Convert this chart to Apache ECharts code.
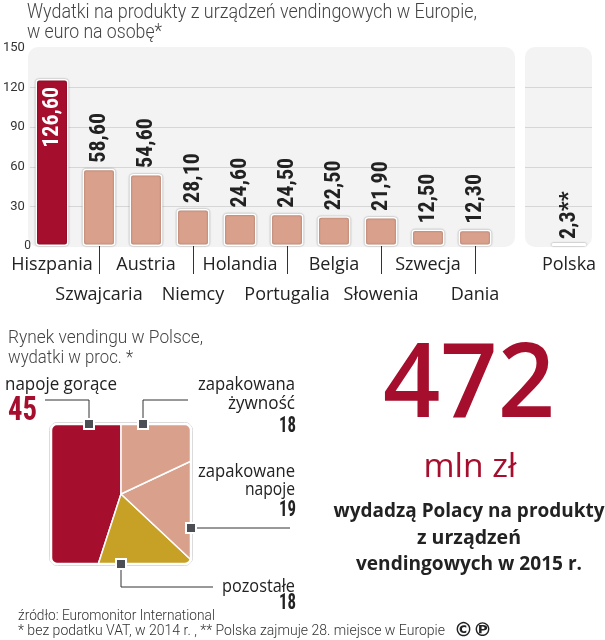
<!DOCTYPE html>
<html>
<head>
<meta charset="utf-8">
<script src="https://cdn.jsdelivr.net/npm/echarts@6/dist/echarts.min.js"></script>
<style>
html,body{margin:0;padding:0;background:#fff;}
#c{width:605px;height:640px;}
</style>
</head>
<body>
<div id="c"></div>
<script>
// ---- data ----
const categories = ['Hiszpania','Szwajcaria','Austria','Niemcy','Holandia','Portugalia','Belgia','Słowenia','Szwecja','Dania'];
const values = [126.6, 58.6, 54.6, 28.1, 24.6, 24.5, 22.5, 21.9, 12.5, 12.3];
const polandCategory = ['Polska'];
const polandValue = [2.3];
const yMin = 0, yMax = 150, yInterval = 30;
const pieLabelLines = [['napoje gorące'], ['pozostałe'], ['zapakowane', 'napoje'], ['zapakowana', 'żywność']];
const pieValues = [45, 18, 19, 18];
const pieNames = pieLabelLines.map(l => l.join(' '));
const titleLines = ['Wydatki na produkty z urządzeń vendingowych w Europie,', 'w euro na osobę*'];
const pieTitleLines = ['Rynek vendingu w Polsce,', 'wydatki w proc. *'];
const headline = '472';
const headlineUnit = 'mln zł';
const headlineText = ['wydadzą Polacy na produkty', 'z urządzeń', 'vendingowych w 2015 r.'];
const footerLines = ['źródło: Euromonitor International', '* bez podatku VAT, w 2014 r. , ** Polska zajmuje 28. miejsce w Europie'];

// ---- styles ----
const RED = '#a50f2d', PINK = '#d9a08b', OLIVE = '#c7a026';
const COND = "'Liberation Sans Narrow','Roboto Condensed','DejaVu Sans Condensed',sans-serif";
const LIGHT = "Roboto,'Noto Sans',sans-serif";
const SANS = "'Open Sans','Noto Sans',sans-serif";
const fmt = v => v.toFixed(2).replace('.', ',');

const mctx = document.createElement('canvas').getContext('2d');
function fitScale(text, font, w) { mctx.font = font; return w / mctx.measureText(text).width; }
function fitText(text, x, y, w, weight, size, family, color, align, z) {
  const font = weight + ' ' + size + 'px ' + family;
  const s = fitScale(text, font, w);
  return { type: 'text', x: x, y: y, scaleX: s, z: z || 20,
    style: { text: text, x: 0, y: 0, fill: color, font: font,
      textAlign: align, textVerticalAlign: 'middle' } };
}

const barData = values.map((v, i) => {
  const d = { value: v, itemStyle: { color: i === 0 ? RED : PINK } };
  if (i === 0) d.label = { position: 'insideTop', align: 'right', color: '#fff', distance: 8 };
  return d;
});

const barItemStyle = { borderColor: '#fff', borderWidth: 1.5, borderRadius: 3, shadowColor: 'rgba(0,0,0,0.35)', shadowBlur: 2 };
const barLabel = { show: true, rotate: 90, position: 'top', distance: 6, align: 'left', verticalAlign: 'middle',
  fontFamily: COND, fontWeight: 'bold', fontSize: 22, color: '#222' };

const ySplit = { show: true, showMinLine: false, showMaxLine: false, lineStyle: { color: '#d6d6d6', width: 1 } };

const graphics = [];
// panels
graphics.push({ type: 'rect', z: -1, shape: { x: 28, y: 47, width: 487, height: 200, r: 10 }, style: { fill: '#f3f3f3' } });
graphics.push({ type: 'rect', z: -1, shape: { x: 525, y: 47, width: 67, height: 200, r: 10 }, style: { fill: '#f3f3f3' } });
// titles
graphics.push(fitText(titleLines[0], 27, 13, 450, 300, 20, LIGHT, '#444', 'left'));
graphics.push(fitText(titleLines[1], 27, 33, 135, 300, 20, LIGHT, '#444', 'left'));
graphics.push(fitText(pieTitleLines[0], 8, 338, 195, 300, 19, LIGHT, '#444', 'left'));
graphics.push(fitText(pieTitleLines[1], 8, 358, 125, 300, 19, LIGHT, '#444', 'left'));
// pie mask: white frame around a rounded square hole
const sq = { x0: 51, y0: 424, x1: 191, y1: 564, r: 6 };
const M = { x0: 8, y0: 383, x1: 238, y1: 608 };
const white = { fill: '#fff' };
graphics.push({ type: 'rect', z: 10, shape: { x: M.x0, y: M.y0, width: M.x1 - M.x0, height: sq.y0 - M.y0 }, style: white });
graphics.push({ type: 'rect', z: 10, shape: { x: M.x0, y: sq.y1, width: M.x1 - M.x0, height: M.y1 - sq.y1 }, style: white });
graphics.push({ type: 'rect', z: 10, shape: { x: M.x0, y: M.y0, width: sq.x0 - M.x0, height: M.y1 - M.y0 }, style: white });
graphics.push({ type: 'rect', z: 10, shape: { x: sq.x1, y: M.y0, width: M.x1 - sq.x1, height: M.y1 - M.y0 }, style: white });
function cornerPoly(cx, cy, px, py, a0) {
  const pts = [[px, py]];
  for (let k = 0; k <= 8; k++) {
    const a = (a0 + k * 90 / 8) * Math.PI / 180;
    pts.push([cx + sq.r * Math.cos(a), cy + sq.r * Math.sin(a)]);
  }
  return { type: 'polygon', z: 10, shape: { points: pts }, style: white };
}
graphics.push(cornerPoly(sq.x0 + sq.r, sq.y0 + sq.r, sq.x0 - 0.5, sq.y0 - 0.5, 180));
graphics.push(cornerPoly(sq.x1 - sq.r, sq.y0 + sq.r, sq.x1 + 0.5, sq.y0 - 0.5, 270));
graphics.push(cornerPoly(sq.x1 - sq.r, sq.y1 - sq.r, sq.x1 + 0.5, sq.y1 + 0.5, 0));
graphics.push(cornerPoly(sq.x0 + sq.r, sq.y1 - sq.r, sq.x0 - 0.5, sq.y1 + 0.5, 90));
graphics.push({ type: 'rect', z: 11, shape: { x: 49.5, y: 422.5, width: 143, height: 143, r: 8 }, style: { fill: 'none', stroke: '#cfcfcf', lineWidth: 1 } });
graphics.push({ type: 'rect', z: 11, shape: { x: 51, y: 424, width: 140, height: 140, r: 6 }, style: { fill: 'none', stroke: '#fff', lineWidth: 2.5 } });
// leader lines
const leaders = [
  [[89, 424], [89, 400], [45, 400]],
  [[121, 564], [121, 587], [213, 587]],
  [[191, 528], [290, 528]],
  [[143, 424], [143, 400], [188, 400]]
];
leaders.forEach(p => graphics.push({ type: 'polyline', z: 12, shape: { points: p }, style: { stroke: '#333', lineWidth: 1, fill: 'none' } }));
leaders.forEach(p => graphics.push({ type: 'rect', z: 13, shape: { x: p[0][0] - 5, y: p[0][1] - 5, width: 10, height: 10 }, style: { fill: '#4b4f55', stroke: '#fff', lineWidth: 2 } }));
// pie labels
graphics.push(fitText(pieLabelLines[0][0], 5, 385, 112, 400, 18, SANS, '#222', 'left'));
graphics.push(fitText(String(pieValues[0]), 8, 411, 29, 'bold', 34, COND, RED, 'left'));
graphics.push(fitText(pieLabelLines[3][0], 295, 385, 97, 400, 18, SANS, '#222', 'right'));
graphics.push(fitText(pieLabelLines[3][1], 295, 404, 67, 400, 18, SANS, '#222', 'right'));
graphics.push(fitText(String(pieValues[3]), 296, 426, 17, 'bold', 22, COND, '#222', 'right'));
graphics.push(fitText(pieLabelLines[2][0], 295, 472, 97, 400, 18, SANS, '#222', 'right'));
graphics.push(fitText(pieLabelLines[2][1], 295, 490, 50, 400, 18, SANS, '#222', 'right'));
graphics.push(fitText(String(pieValues[2]), 296, 510, 17, 'bold', 22, COND, '#222', 'right'));
graphics.push(fitText(pieLabelLines[1][0], 295, 587, 73, 400, 18, SANS, '#222', 'right'));
graphics.push(fitText(String(pieValues[1]), 296, 603, 17, 'bold', 22, COND, '#222', 'right'));
// headline
graphics.push(fitText(headline, 469, 387, 172, 600, 104, SANS, RED, 'center'));
graphics.push(fitText(headlineUnit, 470, 468, 93, 400, 32, SANS, RED, 'center'));
graphics.push(fitText(headlineText[0], 469, 512, 271, 'bold', 19, SANS, '#222', 'center'));
graphics.push(fitText(headlineText[1], 469, 539, 104, 'bold', 19, SANS, '#222', 'center'));
graphics.push(fitText(headlineText[2], 469, 565, 226, 'bold', 19, SANS, '#222', 'center'));
// footer
graphics.push(fitText(footerLines[0], 18, 616, 197, 300, 15, LIGHT, '#333', 'left'));
graphics.push(fitText(footerLines[1], 18, 631, 427, 300, 15, LIGHT, '#333', 'left'));
graphics.push({ type: 'text', x: 454, y: 631, z: 20, style: { text: '©℗', fill: '#222', font: 'bold 19px DejaVu Sans', textVerticalAlign: 'middle' } });

const chart = echarts.init(document.getElementById('c'), null, { renderer: 'canvas' });
chart.setOption({
  animation: false,
  backgroundColor: '#fff',
  grid: [
    { left: 28, top: 48, width: 487, height: 198 },
    { left: 28.5, top: 48, width: 470, height: 198 },
    { left: 525, top: 48, width: 67, height: 198 },
    { left: 545.5, top: 48, width: 47, height: 198 }
  ],
  xAxis: [
    { gridIndex: 0, type: 'category', data: [''], show: false },
    { gridIndex: 1, type: 'category', data: categories, offset: 4,
      axisLine: { show: false },
      axisTick: { show: true, alignWithLabel: true, length: 28, interval: i => i % 2 === 1, lineStyle: { color: '#333', width: 1 } },
      axisLabel: { interval: 0, margin: 0, fontFamily: SANS, fontSize: 18, lineHeight: 30, color: '#222',
        formatter: (v, i) => (i % 2 ? '\n' + v : v) } },
    { gridIndex: 2, type: 'category', data: [''], show: false },
    { gridIndex: 3, type: 'category', data: polandCategory, offset: 4,
      axisLine: { show: false }, axisTick: { show: false },
      axisLabel: { interval: 0, margin: 0, fontFamily: SANS, fontSize: 18, lineHeight: 30, color: '#222' } }
  ],
  yAxis: [
    { gridIndex: 0, type: 'value', min: yMin, max: yMax, interval: yInterval,
      axisLine: { show: false }, axisTick: { show: false }, splitLine: ySplit,
      axisLabel: { margin: 5, align: 'right', fontFamily: LIGHT, fontSize: 13, color: '#333',
        formatter: v => (v === 0 ? '{z|0}' : String(v)),
        rich: { z: { fontSize: 12, fontFamily: LIGHT, color: '#333', padding: [0, -6, 0, 0] } } } },
    { gridIndex: 1, type: 'value', min: yMin, max: yMax, interval: yInterval, show: false, splitLine: { show: false } },
    { gridIndex: 2, type: 'value', min: yMin, max: yMax, interval: yInterval,
      axisLine: { show: false }, axisTick: { show: false }, axisLabel: { show: false }, splitLine: ySplit },
    { gridIndex: 3, type: 'value', min: yMin, max: yMax, interval: yInterval, show: false, splitLine: { show: false } }
  ],
  series: [
    { type: 'bar', xAxisIndex: 1, yAxisIndex: 1, data: barData, barWidth: 33, silent: true,
      itemStyle: barItemStyle,
      label: Object.assign({}, barLabel, { formatter: p => fmt(p.value) }) },
    { type: 'bar', xAxisIndex: 3, yAxisIndex: 3, data: polandValue, barWidth: 35, silent: true,
      itemStyle: Object.assign({}, barItemStyle, { color: '#e8e8e8' }),
      label: Object.assign({}, barLabel, { distance: 4, formatter: p => String(p.value).replace('.', ',') + '**' }) },
    { type: 'pie', center: [121, 494], radius: 104, startAngle: 90, clockwise: false, silent: true,
      label: { show: false }, labelLine: { show: false }, emphasis: { disabled: true },
      itemStyle: { borderColor: '#fff', borderWidth: 1.5 },
      data: pieNames.map((n, i) => ({ name: n, value: pieValues[i], itemStyle: { color: [RED, OLIVE, PINK, PINK][i] } })) }
  ],
  graphic: { elements: graphics }
});
</script>
</body>
</html>
